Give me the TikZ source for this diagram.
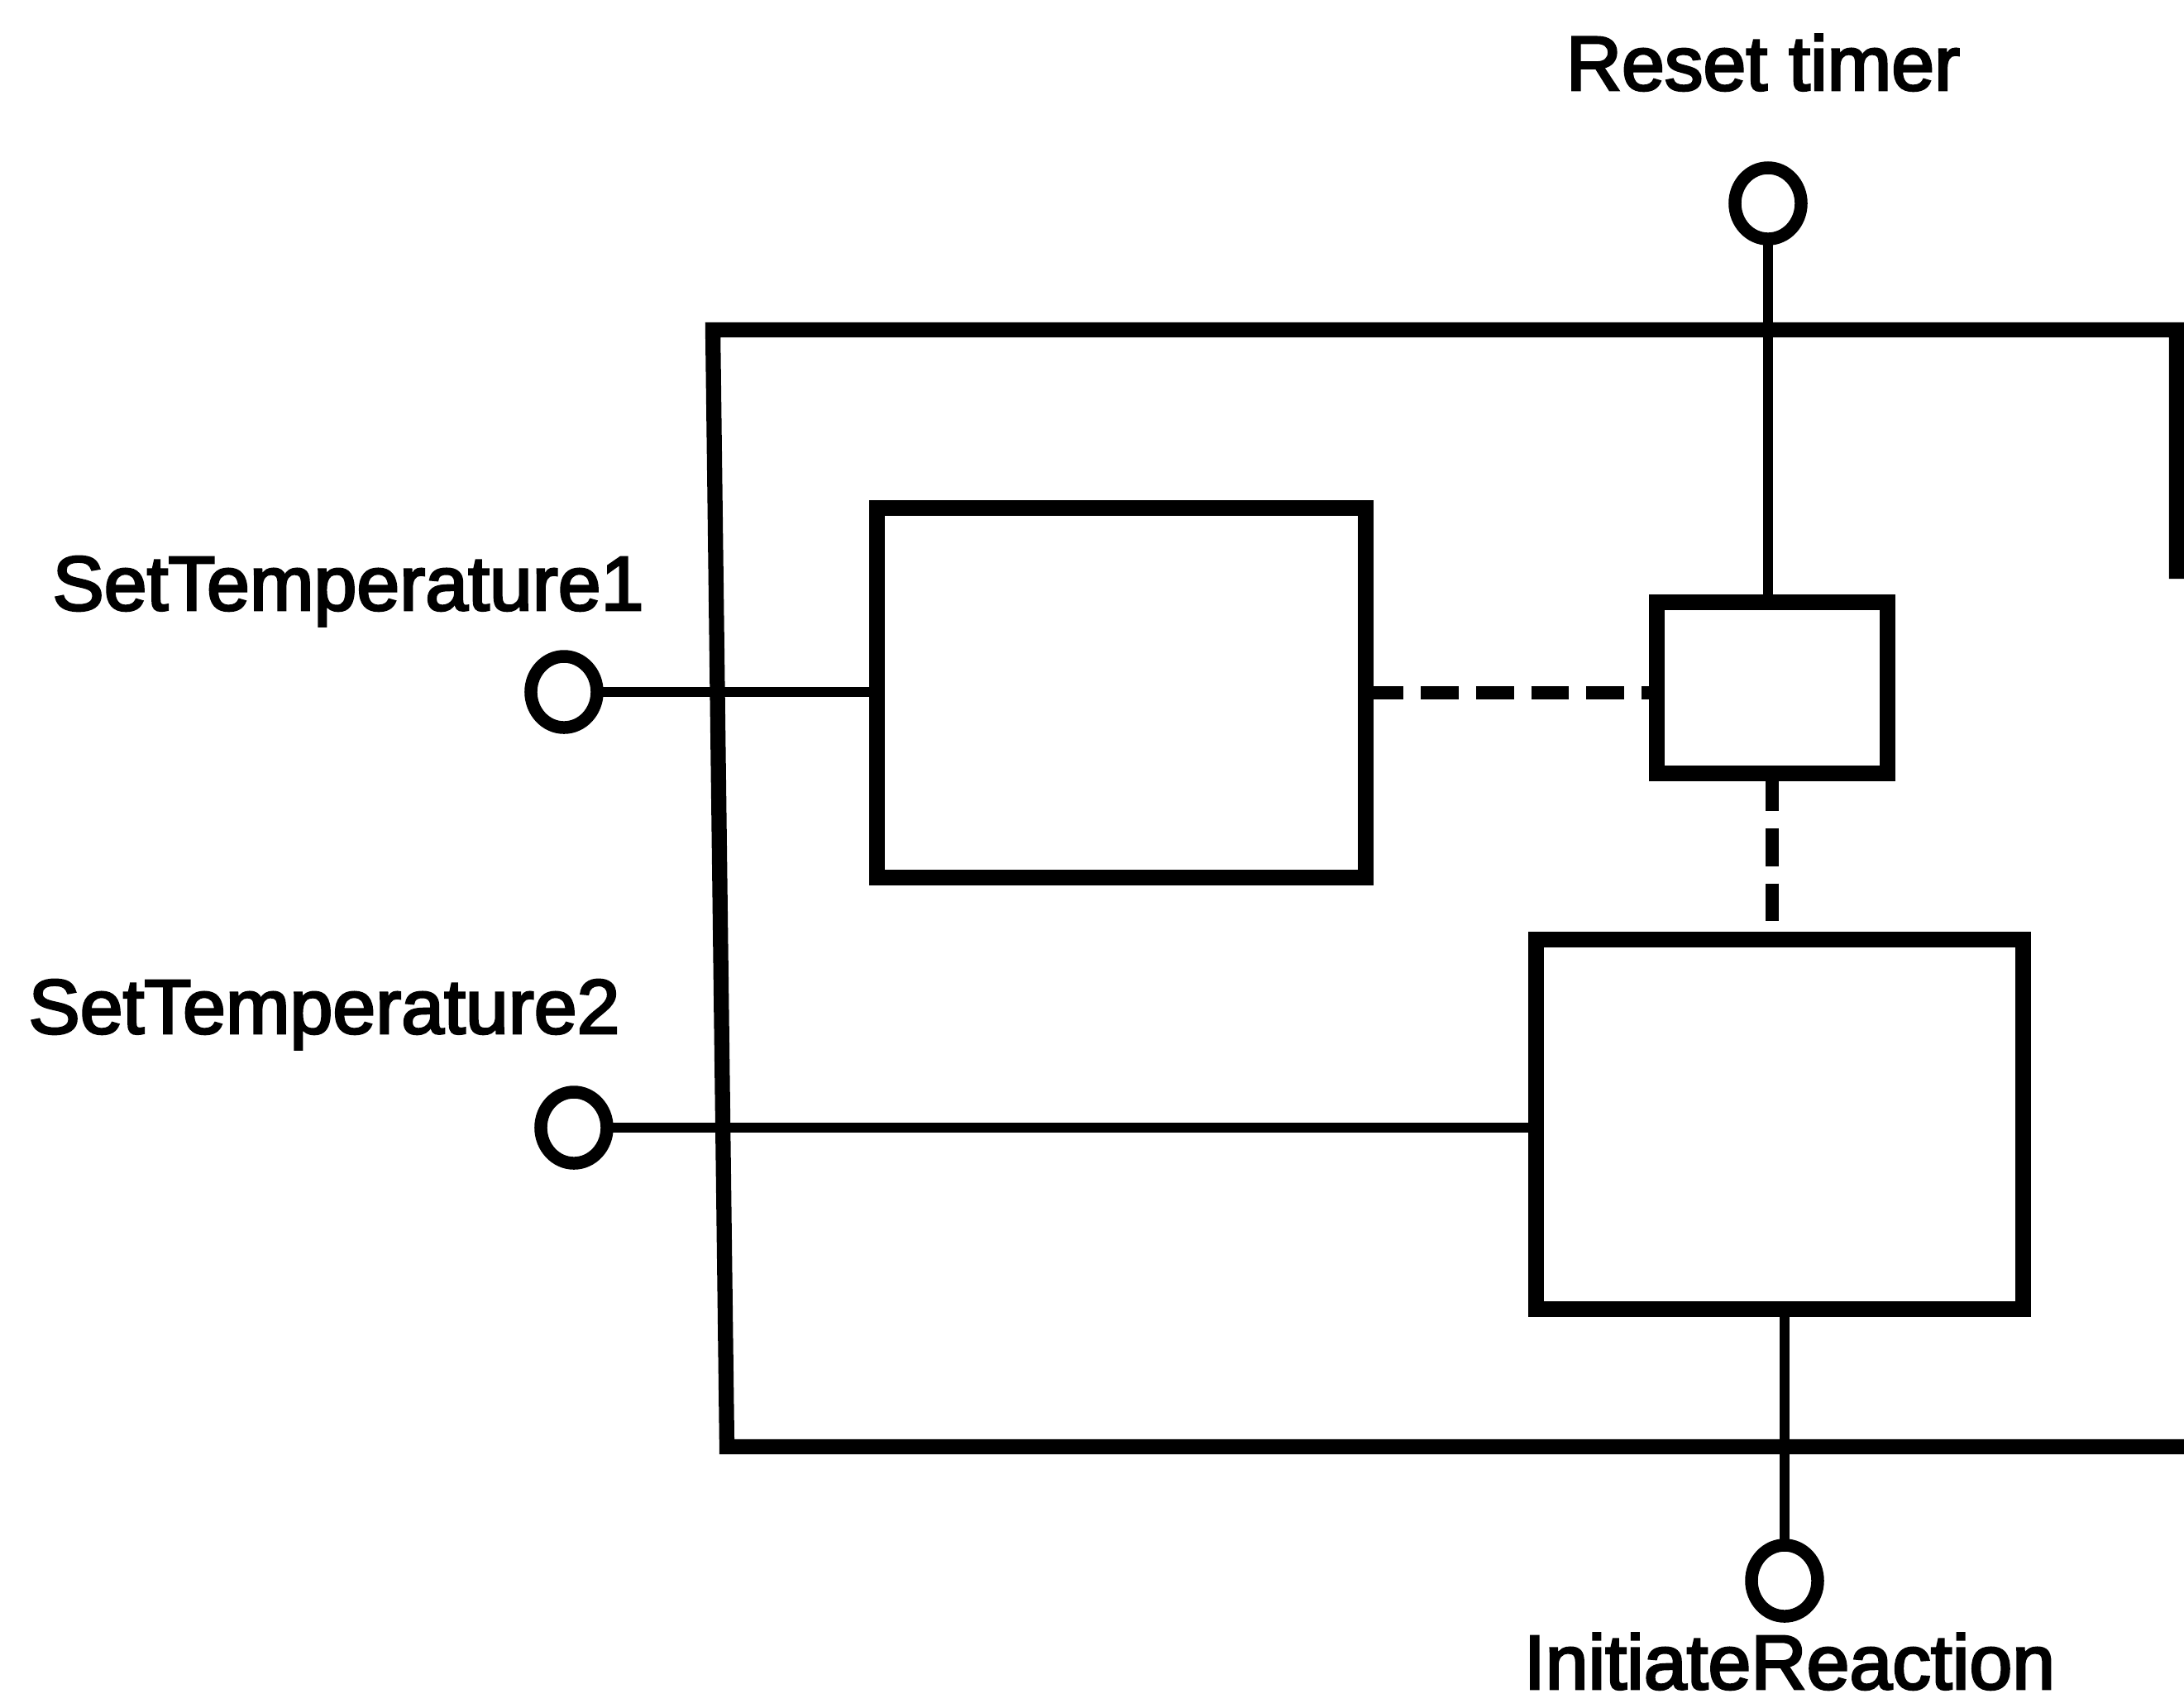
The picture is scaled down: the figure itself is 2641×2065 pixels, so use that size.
\documentclass[tikz,border=0pt]{standalone}
\usepackage{fontspec}
\setmainfont{Liberation Sans}
\usetikzlibrary{shapes.geometric}
\begin{document}
\begin{tikzpicture}[x=0.01cm,y=-0.01cm,
  blockbox/.style={draw, rectangle, line width=5.4pt, inner sep=0pt, outer sep=0pt},
  port/.style={draw, ellipse, line width=4.4pt, inner sep=0pt, outer sep=0pt, minimum width=0.8cm, minimum height=0.86cm},
  wire/.style={line width=3.6pt},
  dashwire/.style={line width=4.4pt, dash pattern=on 13pt off 6pt},
  outerbox/.style={line width=5.2pt, line join=miter},
  lbl/.style={font=\fontsize{26.5}{30}\selectfont\addfontfeature{FakeBold=3}, inner sep=0pt, anchor=base}]
\fill[white] (0,0) rectangle (2641,2065);
\useasboundingbox (0,0) rectangle (2641,2065);

% outer box (right side cut off by the page edge)
\coordinate (ortop) at (2632,700);
\coordinate (orbot) at (2641,1750);
\draw[outerbox] (ortop) -- (2632,399) -- (862,399) -- (879,1750) -- (orbot);

% blocks
\node[blockbox, minimum width=5.9cm, minimum height=4.46cm] (A) at (1356,838) {};
\node[blockbox, minimum width=2.78cm, minimum height=2.06cm] (B) at (2143,832) {};
\node[blockbox, minimum width=5.88cm, minimum height=4.46cm] (C) at (2152,1360) {};

% ports
\node[port] (p0) at (2138,246) {};
\node[port] (p1) at (682,837) {};
\node[port] (p2) at (694,1364) {};
\node[port] (p3) at (2158,1912) {};

% labels
\node[lbl] (t0) at (2132,109) {Reset timer};
\node[lbl] (t1) at (421,738) {SetTemperature1};
\node[lbl] (t2) at (392,1250) {SetTemperature2};
\node[lbl] (t3) at (2164,2043) {InitiateReaction};

% connectors
\draw[wire] (p0.south) -- (p0.south |- B.north);
\draw[wire] (p1.east) -- (p1.east -| A.west);
\draw[wire] (p2.east) -- (p2.east -| C.west);
\draw[wire] (p3.north |- C.south) -- (p3.north);
\draw[dashwire] (A.east) -- (A.east -| B.west);
\draw[dashwire] (B.south) -- (B.south |- C.north);
\end{tikzpicture}
\end{document}
